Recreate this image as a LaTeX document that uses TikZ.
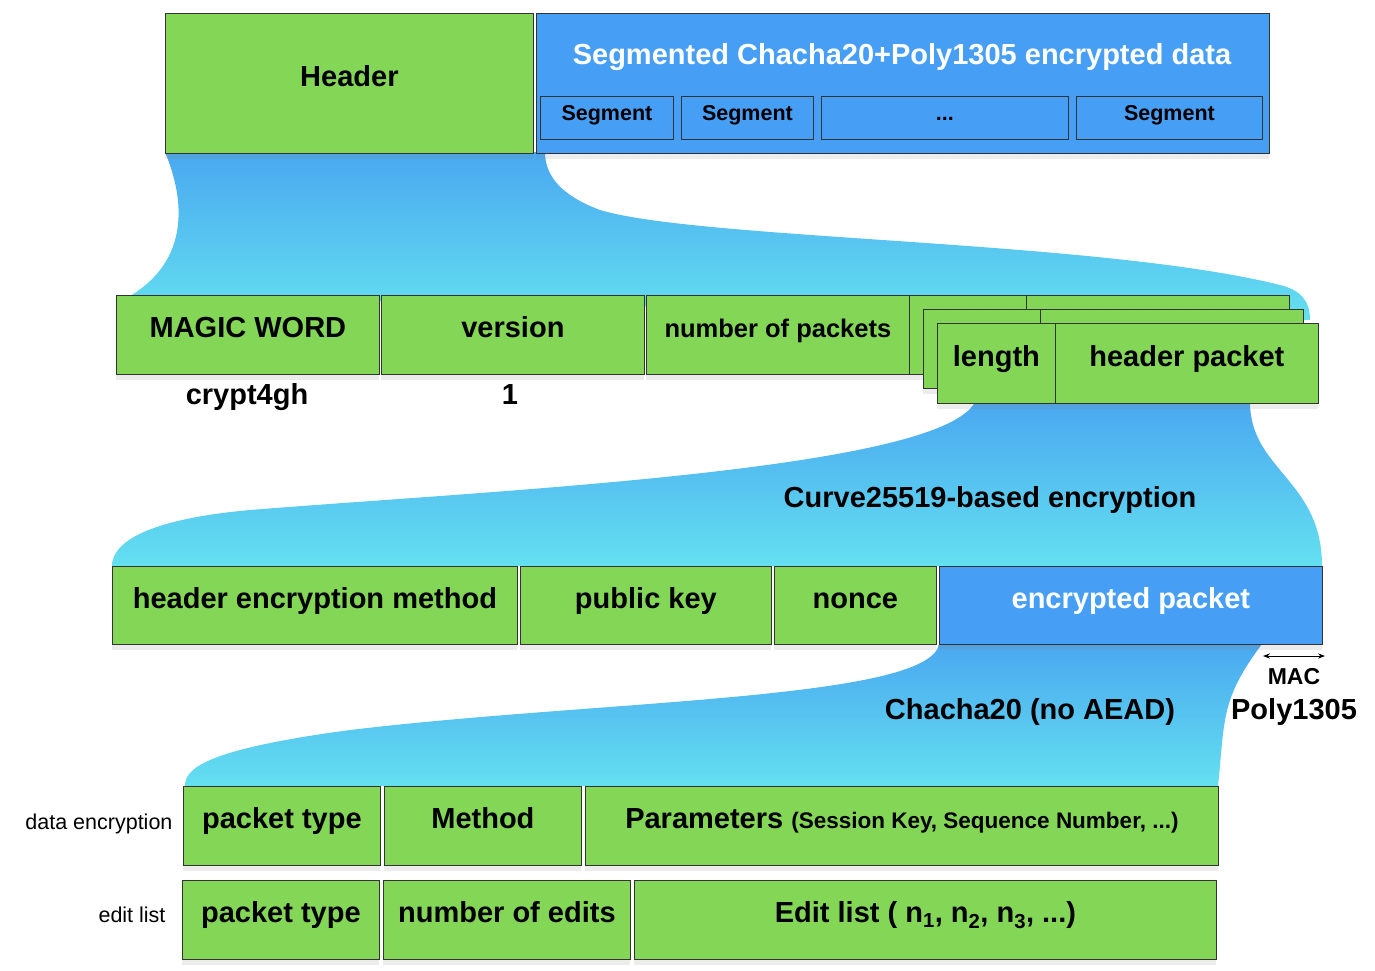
\documentclass[tikz,border=0pt]{standalone}
\usepackage{fontspec}
\setmainfont{Liberation Sans}
\usetikzlibrary{shadows,arrows.meta}
\definecolor{grn}{HTML}{84D656}
\definecolor{blu}{HTML}{479FF5}
\definecolor{ftop}{HTML}{4AA8F0}
\definecolor{fbot}{HTML}{64E0F0}
\tikzset{
 bx/.style={draw=black!80,line width=0.8pt,fill=grn,drop shadow={opacity=0.15,shadow xshift=0pt,shadow yshift=-6pt}},
 bb/.style={bx,fill=blu},
 sg/.style={draw=black!80,line width=0.8pt,fill=blu,font=\bfseries\fontsize{21.5}{24}\selectfont,text height=0.72em,text depth=0.2em},
 lb/.style={font=\bfseries\fontsize{29}{32}\selectfont,text height=0.72em,text depth=0.2em},
 sl/.style={font=\fontsize{21.5}{24}\selectfont,text height=0.72em,text depth=0.2em}
}
\newcommand{\bxat}[6]{\node[#1,minimum width=#4-#2,minimum height=#5-#3,inner sep=0,anchor=north west] (#6) at (#2,#3) {};}
\begin{document}
\begin{tikzpicture}[x=1pt,y=-1pt]
\useasboundingbox (0,0) rectangle (1375,970);
% funnels
\shade[top color=ftop,bottom color=fbot] (165,152) .. controls (185,200) and (190,260) .. (130,296) -- (1310,320) .. controls (1310,300) and (1300,290) .. (1280,285) .. controls (1100,240) and (700,240) .. (600,210) .. controls (560,195) and (545,175) .. (545,152) -- cycle;
\shade[top color=ftop,bottom color=fbot] (975,402) .. controls (940,470) and (500,490) .. (250,510) .. controls (140,520) and (112,545) .. (112,566) -- (1322,566) .. controls (1322,480) and (1250,470) .. (1250,402) -- cycle;
\shade[top color=ftop,bottom color=fbot] (939,644) .. controls (930,700) and (600,700) .. (350,730) .. controls (200,750) and (185,770) .. (185,786) -- (1218,786) .. controls (1225,720) and (1220,700) .. (1262,644) -- cycle;
% top row
\bxat{bx}{165}{13}{533}{153}{hdr}
\node[lb] at (hdr.center) {Header};
\bxat{bb}{536}{13}{1269}{153}{enc}
\node[lb,text=white] (enct) at (902,62) {Segmented Chacha20+Poly1305 encrypted data};
\bxat{sg}{540}{96}{673}{139}{s1}\node[sg,draw=none,fill=none] at (s1.center) {Segment};
\bxat{sg}{681}{96}{813}{139}{s2}\node[sg,draw=none,fill=none] at (s2.center) {Segment};
\bxat{sg}{821}{96}{1068}{139}{s3}\node[sg,draw=none,fill=none] at (s3.center) {...};
\bxat{sg}{1076}{96}{1262}{139}{s4}\node[sg,draw=none,fill=none] at (s4.center) {Segment};
% row 2
\bxat{bx}{116}{295}{379}{374}{mw}\node[lb] at (mw.center) {MAGIC WORD};
\bxat{bx}{381}{295}{644}{374}{ver}\node[lb] at (ver.center) {version};
\bxat{bx}{646}{295}{909}{374}{np}\node[font=\bfseries\fontsize{25.5}{28}\selectfont,text height=0.72em,text depth=0.2em] at (np.center) {number of packets};
\bxat{bx}{909}{295}{1289}{374}{pa}\draw[black!80,line width=0.8pt] (1026,295) -- (1026,374);
\bxat{bx}{923}{309}{1303}{388}{pb}\draw[black!80,line width=0.8pt] (1040,309) -- (1040,388);
\bxat{bx}{937}{323}{1055}{403}{len}\node[lb] at (len.center) {length};
\bxat{bx}{1055}{323}{1318}{403}{hp}\node[lb] at (hp.center) {header packet};
\node[lb] (c4) at (247,402) {crypt4gh};
\node[lb] (one) at (510,402) {1};
\node[lb] (cv) at (990,505) {Curve25519-based encryption};
% row 3
\bxat{bx}{112}{566}{517}{644}{hem}\node[lb] at (hem.center) {header encryption method};
\bxat{bx}{520}{566}{771}{644}{pk}\node[lb] at (pk.center) {public key};
\bxat{bx}{774}{566}{936}{644}{nc}\node[lb] at (nc.center) {nonce};
\bxat{bb}{939}{566}{1322}{644}{ep}\node[lb,text=white] at (ep.center) {encrypted packet};
\coordinate (m1) at (1263,656); \coordinate (m2) at (1325,656);
\draw[{Stealth[length=7pt]}-{Stealth[length=7pt]},line width=1pt] (m1) -- (m2);
\node[font=\bfseries\fontsize{23}{25}\selectfont] (mac) at (1294,677) {MAC};
\node[lb] (poly) at (1294,717) {Poly1305};
\node[lb] (cc) at (1030,717) {Chacha20 (no AEAD)};
% row 4
\bxat{bx}{183}{786}{380}{865}{pt1}\node[lb] at (pt1.center) {packet type};
\bxat{bx}{384}{786}{581}{865}{me}\node[lb] at (me.center) {Method};
\bxat{bx}{585}{786}{1218}{865}{par}\node[lb] at (par.center) {Parameters \fontsize{22.5}{25}\selectfont(Session Key, Sequence Number, ...)};
\node[sl,anchor=east] (de) at (176,827) {data encryption};
% row 5
\bxat{bx}{182}{880}{379}{959}{pt2}\node[lb] at (pt2.center) {packet type};
\bxat{bx}{383}{880}{630}{959}{ne}\node[lb] at (ne.center) {number of edits};
\bxat{bx}{634}{880}{1216}{959}{el}\node[lb] at (el.center) {Edit list ( n\textsubscript{1}, n\textsubscript{2}, n\textsubscript{3}, ...)};
\node[sl,anchor=east] (ed) at (169,920) {edit list};
\end{tikzpicture}
\end{document}
